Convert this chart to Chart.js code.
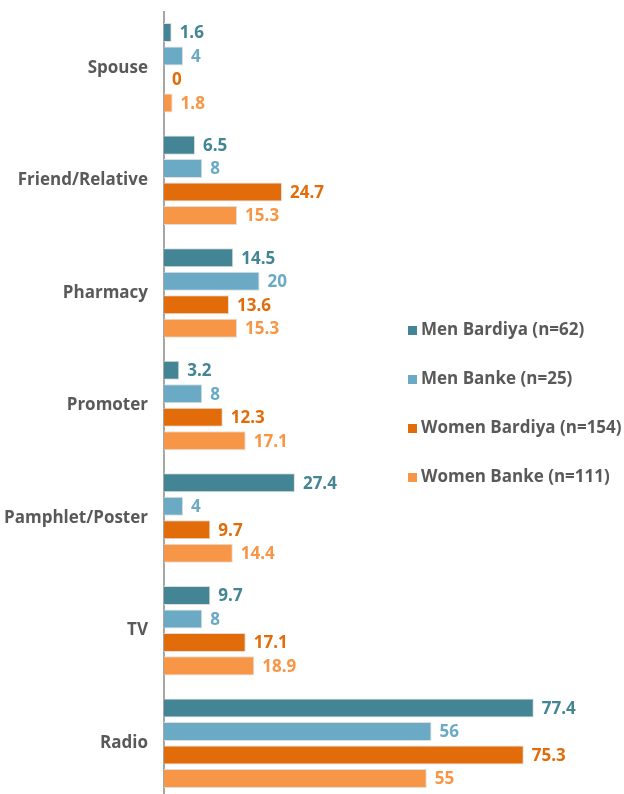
<!DOCTYPE html>
<html>
<head>
<meta charset="utf-8">
<script src="https://cdn.jsdelivr.net/npm/chart.js@4"></script>
<style>
  html, body { margin: 0; padding: 0; background: #fff; overflow: hidden; }
  #wrap { position: relative; width: 624px; height: 794px; overflow: hidden; }
  #cv { position: absolute; left: 0; top: 0; }
  #legend { position: absolute; left: 408px; top: 317px; font-family: 'Open Sans', sans-serif; font-weight: bold; font-size: 17px; color: #595959; }
  .li { position: relative; height: 49px; line-height: 24px; white-space: nowrap; }
  .sw { display: inline-block; width: 9px; height: 9px; margin-right: 4px; vertical-align: 0px; }
</style>
</head>
<body>
<div id="wrap">
  <canvas id="cv" width="624" height="800" style="width:624px;height:800px"></canvas>
  <div id="legend"></div>
</div>
<script>
const categories = ['Spouse', 'Friend/Relative', 'Pharmacy', 'Promoter', 'Pamphlet/Poster', 'TV', 'Radio'];
const seriesNames = ['Men Bardiya (n=62)', 'Men Banke (n=25)', 'Women Bardiya (n=154)', 'Women Banke (n=111)'];
const menBardiya   = [1.6, 6.5, 14.5, 3.2, 27.4, 9.7, 77.4];
const menBanke     = [4, 8, 20, 8, 4, 8, 56];
const womenBardiya = [0, 24.7, 13.6, 12.3, 9.7, 17.1, 75.3];
const womenBanke   = [1.8, 15.3, 15.3, 17.1, 14.4, 18.9, 55];
const colors = ['#438594', '#6aaac4', '#e36c0a', '#f79646'];
const seriesValues = [menBardiya, menBanke, womenBardiya, womenBanke];

const labelPlugin = {
  id: 'barLabels',
  afterDatasetsDraw(chart) {
    const ctx = chart.ctx;
    ctx.save();
    ctx.font = 'bold 17px "Open Sans", sans-serif';
    ctx.textBaseline = 'middle';
    ctx.textAlign = 'left';
    chart.data.datasets.forEach((ds, i) => {
      const meta = chart.getDatasetMeta(i);
      meta.data.forEach((el, j) => {
        ctx.fillStyle = colors[i];
        ctx.fillText(String(ds.data[j]), el.x + 8, el.y + 1);
      });
    });
    ctx.restore();
  }
};

const chart = new Chart(document.getElementById('cv'), {
  type: 'bar',
  data: {
    labels: categories,
    datasets: seriesValues.map((vals, i) => ({
      label: seriesNames[i],
      data: vals,
      backgroundColor: colors[i],
      borderColor: '#dedede',
      borderWidth: 1,
      categoryPercentage: 0.835,
      barPercentage: 0.81
    }))
  },
  options: {
    indexAxis: 'y',
    responsive: false,
    animation: false,
    layout: { padding: { top: 11.5, bottom: 0.5, left: 0, right: 30 } },
    plugins: { legend: { display: false }, tooltip: { enabled: false } },
    scales: {
      x: { display: false, min: 0, max: 90 },
      y: {
        afterFit(scale) { scale.width = 164; scale.paddingTop = 0; scale.paddingBottom = 0; },
        grid: { display: false, drawTicks: false },
        border: { color: '#a6a6a6', width: 2 },
        ticks: { color: '#595959', padding: 16, font: { family: 'Open Sans', weight: 'bold', size: 17 } }
      }
    }
  },
  plugins: [labelPlugin]
});

const lg = document.getElementById('legend');
seriesNames.forEach((n, i) => {
  const d = document.createElement('div');
  d.className = 'li';
  d.innerHTML = '<span class="sw" style="background:' + colors[i] + '"></span>' + n;
  lg.appendChild(d);
});
</script>
</body>
</html>
